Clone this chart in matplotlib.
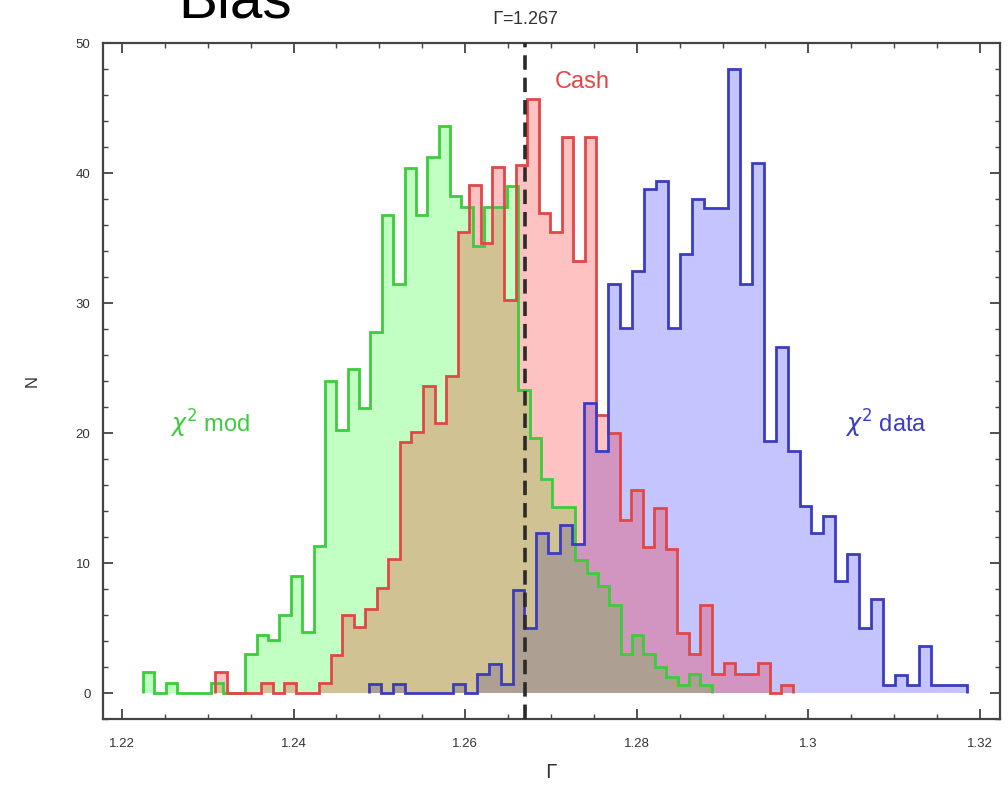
import numpy as np
import matplotlib
matplotlib.use("Agg")
import matplotlib.pyplot as plt
from matplotlib.ticker import MultipleLocator

plt.rcParams['font.family'] = ['Liberation Sans', 'DejaVu Sans']

# ---- data: each histogram has 50 bins over its own range ----
mod_range = (1.22245, 1.28873)      # chi^2 mod (green)
mod_counts = [1.6, 0, 0.8, 0, 0, 0, 0.8, 0, 0, 3.0,
              4.5, 4.1, 6.0, 9.0, 4.7, 11.3, 24.0, 20.2, 24.9, 21.9,
              27.8, 36.8, 31.5, 40.4, 36.8, 41.2, 43.6, 38.2, 37.4, 34.4,
              37.4, 37.4, 39.0, 23.3, 19.6, 16.5, 14.3, 14.3, 10.2, 9.2,
              8.2, 6.8, 3.0, 4.5, 3.0, 2.0, 1.2, 0.6, 1.5, 0.6]

cash_range = (1.23084, 1.29820)     # Cash (red)
cash_counts = [1.6, 0, 0, 0, 0.8, 0, 0.8, 0, 0, 0.8,
               2.9, 6.0, 5.1, 6.5, 8.1, 10.3, 19.3, 20.1, 23.6, 20.8,
               24.4, 35.5, 39.1, 34.6, 40.5, 30.2, 40.6, 45.7, 36.9, 35.5,
               42.8, 33.2, 42.8, 21.4, 20.0, 13.3, 15.6, 11.2, 14.2, 11.1,
               4.6, 3.0, 6.8, 1.5, 2.3, 1.5, 1.5, 2.3, 0, 0.6]

data_range = (1.24879, 1.31848)     # chi^2 data (blue)
data_counts = [0.7, 0, 0.7, 0, 0, 0, 0, 0.7, 0, 1.5,
               2.2, 0.7, 7.9, 5.0, 12.3, 10.8, 12.9, 11.5, 22.3, 18.6,
               31.5, 28.1, 32.5, 38.8, 39.4, 28.1, 33.8, 38.0, 37.3, 37.3,
               48.0, 31.5, 40.8, 19.4, 26.6, 18.6, 14.4, 12.3, 13.6, 8.6,
               10.7, 5.0, 7.2, 0.6, 1.4, 0.6, 3.6, 0.6, 0.6, 0.6]

gamma_true = 1.267

GREEN = "#3ccc3c"
RED = "#e04848"
BLUE = "#3c3cc0"


def edges(rng, counts):
    return np.linspace(rng[0], rng[1], len(counts) + 1)


fig = plt.figure(figsize=(10.08, 7.91), dpi=100)
ax = fig.add_axes([103 / 1008, 1 - 719 / 791, 897 / 1008, 676 / 791])

# fills first (blue, green, red) so overlaps mix like the original
ax.stairs(data_counts, edges(data_range, data_counts), fill=True, color=(0, 0, 1), alpha=0.23, lw=0)
ax.stairs(mod_counts, edges(mod_range, mod_counts), fill=True, color=(0, 1, 0), alpha=0.24, lw=0)
ax.stairs(cash_counts, edges(cash_range, cash_counts), fill=True, color=(1, 0, 0), alpha=0.24, lw=0)

for cnt, rng, col in [(mod_counts, mod_range, GREEN), (cash_counts, cash_range, RED),
                      (data_counts, data_range, BLUE)]:
    ax.stairs(cnt, edges(rng, cnt), color=col, lw=2.0, baseline=0)

ax.axvline(gamma_true, color="#2a2a2a", lw=2.6, ls=(0, (4, 2.2)), zorder=5)

ax.text(1.2737, 47.0, "Cash", color=RED, fontsize=17, ha="center", va="center")
ax.text(1.2303, 20.7, r"$\chi^2$ mod", color=GREEN, fontsize=17, ha="center", va="center")
ax.text(1.3090, 20.7, r"$\chi^2$ data", color=BLUE, fontsize=17, ha="center", va="center")
ax.text(gamma_true, 51.8, r"$\Gamma$=1.267", color="#333", fontsize=13, ha="center", va="center")

ax.set_xlim(1.21779, 1.32233)
ax.set_ylim(-2.0, 50)
ax.xaxis.set_major_locator(MultipleLocator(0.02))
ax.xaxis.set_minor_locator(MultipleLocator(0.005))
ax.yaxis.set_major_locator(MultipleLocator(10))
ax.yaxis.set_minor_locator(MultipleLocator(2))
ax.xaxis.set_major_formatter(plt.FuncFormatter(lambda v, p: f"{v:g}"))
ax.tick_params(which="both", direction="in", top=True, right=True, colors="#444",
               labelcolor="#333", labelsize=9.5)
ax.tick_params(which="major", length=7, width=1.3)
ax.tick_params(which="minor", length=3.5, width=1.0)
ax.tick_params(axis="x", pad=14)
ax.tick_params(axis="y", pad=9)
for s in ax.spines.values():
    s.set_color("#444")
    s.set_linewidth(1.6)

ax.set_xlabel(r"$\Gamma$", fontsize=14, color="#333", labelpad=10)
ax.set_ylabel("N", fontsize=12, color="#333", labelpad=26)

fig.text(235 / 1008, 1 - 18 / 791, "Bias", fontsize=42, ha="center", va="baseline", color="black")

fig.savefig("out.png", dpi=100)
